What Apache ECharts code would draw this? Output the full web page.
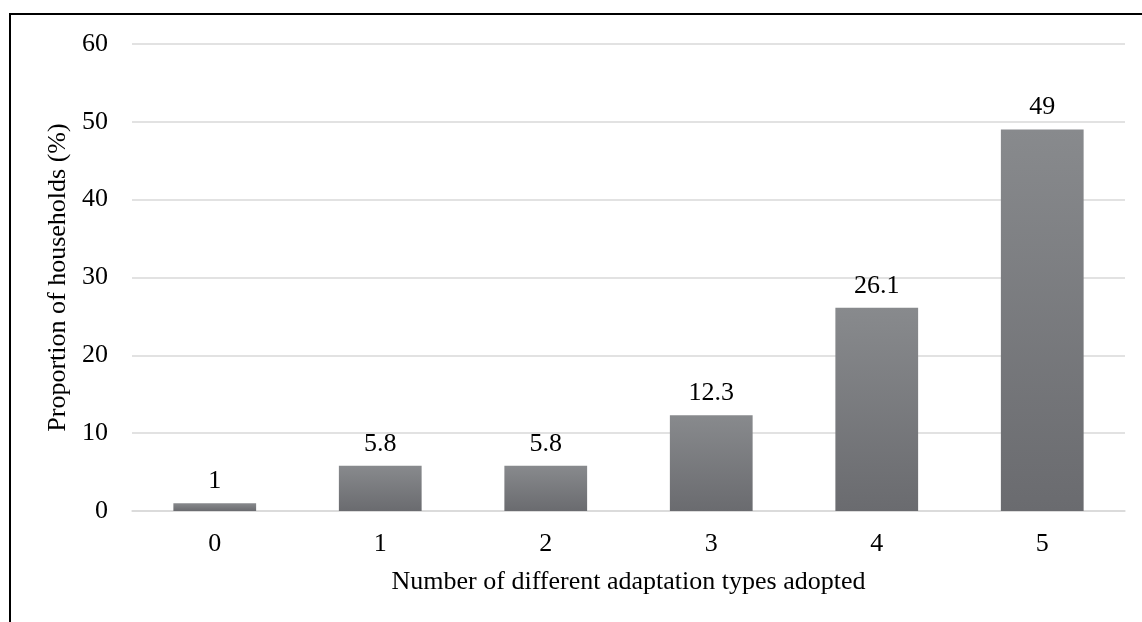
<!DOCTYPE html>
<html>
<head>
<meta charset="utf-8">
<script src="https://cdn.jsdelivr.net/npm/echarts@6/dist/echarts.min.js"></script>
<style>
  html, body { margin: 0; padding: 0; background: #fff; }
  #chart { width: 1142px; height: 622px; }
</style>
</head>
<body>
<div id="chart"></div>
<script>
// Share of households by number of adaptation types adopted
const categories = ['0', '1', '2', '3', '4', '5'];
const shares = [1, 5.8, 5.8, 12.3, 26.1, 49];
const yTicks = [0, 10, 20, 30, 40, 50, 60];

const xTitle = 'Number of different adaptation types adopted';
const yTitle = 'Proportion of households (%)';

const font = '"Liberation Serif", "Times New Roman", serif';
const fs = 26;

const chart = echarts.init(document.getElementById('chart'), null, { renderer: 'canvas' });

chart.setOption({
  backgroundColor: '#ffffff',
  animation: false,
  textStyle: { fontFamily: font, color: '#000' },
  graphic: [
    {
      // frame around the figure (left and top edges visible)
      type: 'rect',
      shape: { x: 10, y: 14, width: 1200, height: 700 },
      style: { fill: 'none', stroke: '#000', lineWidth: 2 },
      silent: true
    }
  ],
  grid: { left: 132, right: 17, top: 44, bottom: 111, containLabel: false },
  xAxis: {
    type: 'category',
    data: categories,
    name: xTitle,
    nameLocation: 'middle',
    nameGap: 58,
    nameTextStyle: { fontFamily: font, fontSize: fs, color: '#000' },
    axisLine: { show: true, lineStyle: { color: '#d9d9d9', width: 1.5 } },
    axisTick: { show: false },
    axisLabel: { fontFamily: font, fontSize: fs, color: '#000', margin: 20 }
  },
  yAxis: {
    type: 'value',
    min: yTicks[0],
    max: yTicks[yTicks.length - 1],
    interval: 10,
    name: yTitle,
    nameLocation: 'middle',
    nameGap: 61,
    nameRotate: 90,
    nameTextStyle: { fontFamily: font, fontSize: fs, color: '#000' },
    axisLine: { show: false },
    axisTick: { show: false },
    axisLabel: { fontFamily: font, fontSize: fs, color: '#000', margin: 24 },
    splitLine: { show: true, lineStyle: { color: '#d9d9d9', width: 1.5 } }
  },
  series: [
    {
      type: 'bar',
      data: shares,
      barWidth: '50%',
      itemStyle: {
        color: new echarts.graphic.LinearGradient(0, 0, 0, 1, [
          { offset: 0, color: '#888a8d' },
          { offset: 1, color: '#6a6b6f' }
        ])
      },
      label: {
        show: true,
        position: 'top',
        distance: 9,
        fontFamily: font,
        fontSize: fs,
        color: '#000'
      }
    }
  ]
});
</script>
</body>
</html>
